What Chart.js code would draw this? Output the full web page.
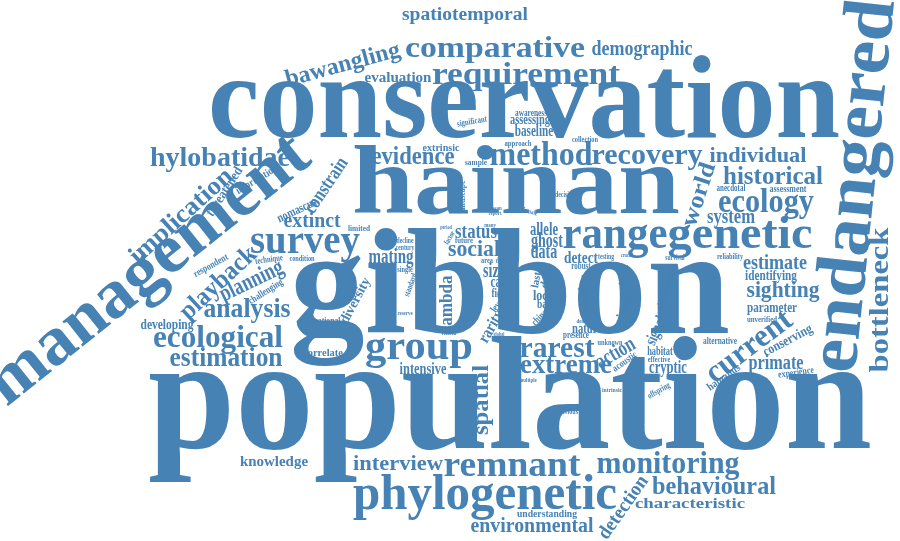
<!DOCTYPE html>
<html>
<head>
<meta charset="utf-8">
<script src="https://cdn.jsdelivr.net/npm/chart.js@4.4.1/dist/chart.umd.min.js"></script>
<style>
  html, body { margin: 0; padding: 0; background: #ffffff; }
  #wrap { width: 900px; height: 541px; position: relative; }
</style>
</head>
<body>
<div id="wrap"><canvas id="cloud"></canvas></div>
<script>
// Word cloud drawn on a scatter chart: each word is a point, text painted by a plugin

const words = [
  "population", "gibbon", "conservation", "hainan", "management", "endangered", "phylogenetic", "range", "genetic", "group",
  "survey", "remnant", "requirement", "comparative", "monitoring", "method", "recovery", "ecology", "current", "ecological",
  "hylobatidae", "rarest", "extreme", "analysis", "estimation", "historical", "behavioural", "playback", "bottleneck", "evidence",
  "implication", "bawangling", "individual", "world", "planning", "sighting", "spatial", "social", "action", "estimate",
  "extinct", "interview", "detection", "constrain", "demographic", "environmental", "status", "mating", "primate", "system",
  "ghost", "data", "size", "spatiotemporal", "allele", "lambda", "cryptic", "rarity", "signal", "call",
  "detect", "intensive", "baseline", "important", "evaluation", "identifying", "knowledge", "characteristic", "developing", "diversity",
  "parameter", "conserving", "assessing", "local", "nature", "threatened", "nomascus", "field", "base", "date",
  "habitat", "information", "extrinsic", "correlate", "hainanus", "level", "china", "last", "observation", "respondent",
  "national", "understanding", "alternative", "experience", "challenging", "robust", "awareness", "presence", "acoustic", "assessment",
  "anecdotal", "landscape", "limited", "technique", "condition", "significant", "sample", "approach", "collection", "unverified",
  "reliability", "single", "area", "future", "unknown", "effective", "offspring", "forest", "standard", "survival",
  "testing", "decision", "decline", "century", "factor", "potential", "previous", "dry", "season", "report",
  "female", "many", "reserve", "related", "multiple", "density", "growth", "intrinsic", "global", "period",
  "crucial",
];

const weights = [
  160, 150, 118, 98, 70, 72, 50, 46, 46, 40,
  40, 36, 32, 30, 32, 33, 30, 34, 32, 32,
  28, 30, 28, 27, 27, 26, 26, 26, 28, 25,
  26, 24, 22, 24, 24, 24, 24, 24, 22, 22,
  20, 20, 20, 20, 20, 20, 20, 20, 20, 20,
  20, 20, 20, 18, 18, 18, 18, 17, 17, 16,
  16, 16, 16, 16, 15, 15, 14, 14, 14, 14,
  14, 14, 14, 14, 14, 14, 13, 13, 13, 13,
  12, 11, 11, 11, 11, 11, 11, 11, 11, 10,
  10, 10, 10, 10, 10, 10, 10, 10, 10, 10,
  10, 10, 9, 9, 9, 9, 9, 9, 9, 9,
  9, 9, 9, 9, 9, 9, 9, 9, 9, 8,
  8, 8, 8, 8, 8, 8, 8, 8, 7, 7,
  7, 7, 7, 7, 7, 7, 7, 7, 6, 6,
  6,
];

// where each word sits: [x, y, length, angle]
const layout = {
  population: [510, 411, 724, 0], gibbon: [510, 298, 440, 0], conservation: [524, 110, 632, 0],
  hainan: [516, 190, 328, 0], management: [150, 272, 393, -38.6], endangered: [858, 186, 375, -84],
  phylogenetic: [485, 497, 264, 0], range: [615, 237, 105, 0], genetic: [740, 237, 145, 0],
  group: [419, 350, 108, 0], survey: [305, 244, 110, 0], remnant: [512, 468, 137, 0],
  requirement: [526, 77, 188, 0], comparative: [495, 50, 180, 0], monitoring: [668, 466, 143, 0],
  method: [541, 157, 103, 0], recovery: [647, 157, 111, 0], ecology: [766, 204, 96, 0],
  current: [750, 348, 100, -37], ecological: [218, 340, 130, 0], hylobatidae: [220, 160, 140, 0],
  rarest: [557, 350, 75, 0], extreme: [566, 367, 92, 0], analysis: [247, 311, 87, 0],
  estimation: [226, 360, 113, 0], historical: [773, 178, 100, 0], behavioural: [714, 488, 124, 0],
  playback: [219, 284, 95, -43], bottleneck: [882, 300, 145, -90], evidence: [413, 158, 83, 0],
  implication: [182, 217, 130, -42], bawangling: [343, 66, 118, -15], individual: [758, 157, 97, 0],
  world: [700, 195, 66, -72], planning: [252, 282, 68, -26], sighting: [783, 291, 73, 0],
  spatial: [482, 400, 70, -90], social: [474, 250, 52, 0], action: [616, 354, 42, -30],
  estimate: [775, 264, 64, 0], extinct: [312, 222, 57, 0], interview: [398, 465, 90, 0],
  detection: [624, 508, 73, -55], constrain: [327, 186, 63, -56], demographic: [642, 50, 101, 0],
  environmental: [532, 527, 123, 0], status: [476, 233, 42, 0], mating: [391, 258, 45, 0],
  primate: [776, 364, 55, 0], system: [731, 218, 48, 0], ghost: [547, 242, 29, 0],
  data: [544, 253, 25, 0], size: [494, 272, 18, 0], spatiotemporal: [465, 16, 126, 0],
  allele: [544, 231, 25, 0], lambda: [448, 303, 55, -90], cryptic: [668, 369, 34, 0],
  rarity: [492, 327, 35, -60], signal: [657, 331, 30, -65], call: [499, 283, 15, 0],
  detect: [581, 259, 34, 0], intensive: [423, 370, 47, 0], baseline: [534, 132, 38, 0],
  important: [624, 291, 52, -90], evaluation: [398, 79, 67, 0], identifying: [771, 277, 52, 0],
  knowledge: [274, 463, 68, 0], characteristic: [690, 505, 110, 0], developing: [167, 326, 53, 0],
  diversity: [356, 301, 50, -62], parameter: [772, 309, 50, 0], conserving: [788, 341, 54, -28],
  assessing: [530, 121, 40, 0], local: [545, 297, 24, 0], nature: [587, 330, 30, 0],
  threatened: [225, 192, 56, -57], nomascus: [297, 211, 42, -25], field: [500, 294, 14, 0],
  base: [546, 305, 18, 0], date: [548, 279, 20, -70], habitat: [660, 352, 24, 0],
  information: [257, 180, 47, -31], extrinsic: [441, 148, 37, 0], correlate: [323, 353, 40, 0],
  hainanus: [724, 378, 38, -35], level: [498, 305, 16, -55], china: [540, 318, 17, -45],
  last: [537, 280, 16, -80], observation: [667, 288, 47, -75], respondent: [211, 266, 38, -29],
  national: [327, 322, 27, 0], understanding: [547, 515, 60, 0], alternative: [720, 342, 34, 0],
  experience: [796, 373, 36, -8], challenging: [266, 292, 39, -32], robust: [581, 267, 18, 0],
  awareness: [531, 114, 32, 0], presence: [576, 336, 25, 0], acoustic: [625, 362, 28, -35],
  assessment: [788, 190, 37, 0], anecdotal: [731, 189, 26, 0], landscape: [463, 197, 33, -90],
  limited: [359, 229, 22, 0], technique: [269, 260, 28, -8], condition: [302, 259, 23, 0],
  significant: [472, 122, 30, -10], sample: [476, 163, 22, 0], approach: [518, 144, 27, 0],
  collection: [585, 140, 26, 0], unverified: [762, 320, 30, 0], reliability: [730, 257, 25, 0],
  single: [405, 270, 15, 0], area: [487, 261, 12, 0], future: [464, 241, 18, 0],
  unknown: [610, 343, 24, 0], effective: [659, 360, 22, 0], offspring: [659, 391, 24, -30],
  forest: [583, 283, 16, -80], standard: [411, 285, 17, -70], survival: [675, 258, 16, 0],
  testing: [606, 257, 15, 0], decision: [565, 195, 20, 0], decline: [405, 241, 15, 0],
  century: [405, 248, 15, 0], factor: [450, 238, 13, -60], potential: [586, 300, 25, -90],
  previous: [567, 412, 22, 0], dry: [500, 261, 7, 0], season: [495, 208, 10, 0],
  report: [495, 213, 10, 0], female: [530, 212, 15, 15], many: [490, 225, 10, 0],
  reserve: [405, 313, 14, 0], related: [449, 333, 12, 0], multiple: [528, 380, 17, 0],
  density: [584, 321, 15, 0], growth: [624, 321, 15, 0], intrinsic: [612, 390, 20, 0],
  global: [499, 335, 8, 0], period: [446, 228, 8, 0], crucial: [627, 256, 10, 0],
};

const WORD_COLOR = "#4682b4";
const FONT_FAMILY = "'Liberation Serif', 'Times New Roman', serif";

const wordPlugin = {
  id: "wordText",
  afterDatasetsDraw(chart) {
    const ctx = chart.ctx;
    const meta = chart.getDatasetMeta(0);
    ctx.save();
    ctx.fillStyle = WORD_COLOR;
    ctx.textAlign = "center";
    ctx.textBaseline = "alphabetic";
    meta.data.forEach((pt, i) => {
      const word = words[i];
      const size = weights[i];
      const [, , length, angle] = layout[word];
      ctx.font = `bold ${size}px ${FONT_FAMILY}`;
      const natural = ctx.measureText(word).width;
      let stretch = length / natural;
      stretch = Math.max(0.7, Math.min(1.4, stretch));
      ctx.save();
      ctx.translate(pt.x, pt.y);
      ctx.rotate((angle * Math.PI) / 180);
      ctx.scale(stretch, 1);
      // point marks the middle of the lower-case body
      ctx.fillText(word, 0, size * 0.23);
      ctx.restore();
    });
    ctx.restore();
  },
};

new Chart(document.getElementById("cloud"), {
  type: "scatter",
  data: {
    datasets: [
      {
        label: "words",
        data: words.map((w) => ({ x: layout[w][0], y: layout[w][1] })),
        pointRadius: 0,
        pointHoverRadius: 0,
      },
    ],
  },
  options: {
    responsive: true,
    maintainAspectRatio: false,
    animation: false,
    events: [],
    layout: { padding: 0 },
    scales: {
      x: { type: "linear", min: 0, max: 900, display: false },
      y: { type: "linear", min: 0, max: 541, reverse: true, display: false },
    },
    plugins: {
      legend: { display: false },
      tooltip: { enabled: false },
    },
  },
  plugins: [wordPlugin],
});
</script>
</body>
</html>
